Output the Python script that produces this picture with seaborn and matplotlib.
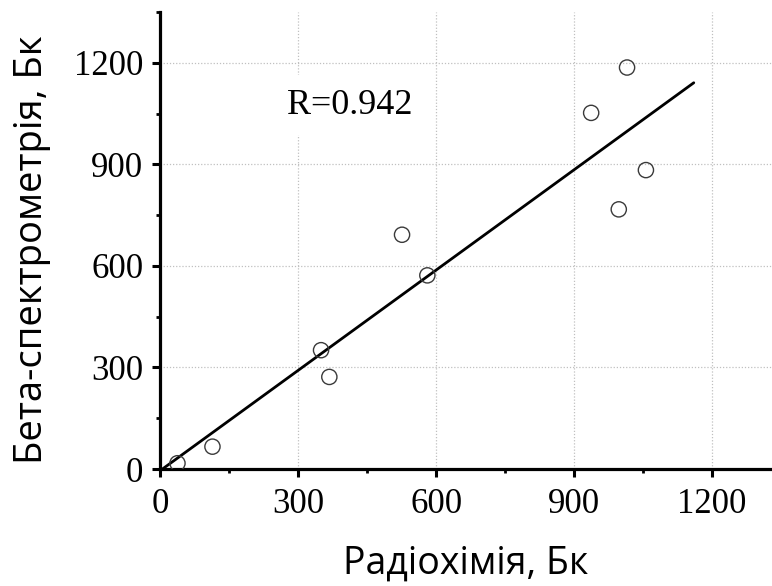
import numpy as np
import pandas as pd
import matplotlib
matplotlib.use("Agg")
import matplotlib.pyplot as plt
from matplotlib.ticker import MultipleLocator
import seaborn as sns

# Measured activities, Bq
radiochem = [38, 114, 350, 368, 526, 581, 937, 997, 1015, 1056]
beta_spec = [17, 66, 351, 272, 692, 572, 1052, 767, 1186, 883]

# x range over which the fitted line is drawn
fit_range = [5, 1160]
r_label = "R=0.942"

x_ticks = [0, 300, 600, 900, 1200]
y_ticks = [0, 300, 600, 900, 1200]

df = pd.DataFrame({"x": radiochem, "y": beta_spec})
slope, intercept = np.polyfit(df["x"], df["y"], 1)
fit = pd.DataFrame({"x": fit_range})
fit["y"] = slope * fit["x"] + intercept

sns.set_theme(style="white")
plt.rcParams["text.color"] = "black"
plt.rcParams["axes.labelcolor"] = "black"
plt.rcParams["xtick.color"] = "black"
plt.rcParams["ytick.color"] = "black"
serif = "Liberation Serif"
sans = "Open Sans"

fig = plt.figure(figsize=(7.72, 5.86), dpi=100)
ax = fig.add_axes([160 / 772, 117 / 586, 1 - 160 / 772, (469 - 12) / 586])

sns.lineplot(data=fit, x="x", y="y", ax=ax, color="black", lw=2.0, zorder=3)
sns.scatterplot(data=df, x="x", y="y", ax=ax, marker="o", s=120,
                facecolor="none", edgecolor="#3a3a3a", linewidth=1.0, zorder=4)

ax.set_xlim(0, 1330)
ax.set_ylim(0, 1350)
ax.set_xticks(x_ticks)
ax.set_yticks(y_ticks)
ax.xaxis.set_minor_locator(MultipleLocator(150))
ax.yaxis.set_minor_locator(MultipleLocator(150))

ax.grid(True, which="major", linestyle=(0, (1, 1.5)), color="#c0c0c0", lw=0.9)
ax.set_axisbelow(True)

for side in ("top", "right"):
    ax.spines[side].set_visible(False)
for side in ("left", "bottom"):
    ax.spines[side].set_linewidth(2.3)
    ax.spines[side].set_color("black")

ax.tick_params(which="major", direction="out", length=6, width=2.2,
               labelsize=25, left=True, bottom=True)
ax.tick_params(which="minor", direction="out", length=3, width=2.0,
               left=True, bottom=True)
ax.tick_params(axis="x", which="major", pad=7.5)
ax.tick_params(axis="y", which="major", pad=6)
for lab in ax.get_xticklabels() + ax.get_yticklabels():
    lab.set_fontfamily(serif)

ax.set_xlabel("Радіохімія, Бк", fontfamily=sans, fontsize=27)
ax.set_ylabel("Бета-спектрометрія, Бк", fontfamily=sans, fontsize=27.5)
ax.xaxis.set_label_coords(0.5, -76 / 457, transform=ax.transAxes)
ax.yaxis.set_label_coords(-109 / 612, 0.479, transform=ax.transAxes)

ax.text(412, 1075, r_label, fontfamily=serif, fontsize=26, ha="center", va="center",
        bbox=dict(facecolor="white", edgecolor="none", pad=10), zorder=5)

fig.savefig("out.png", dpi=100)
